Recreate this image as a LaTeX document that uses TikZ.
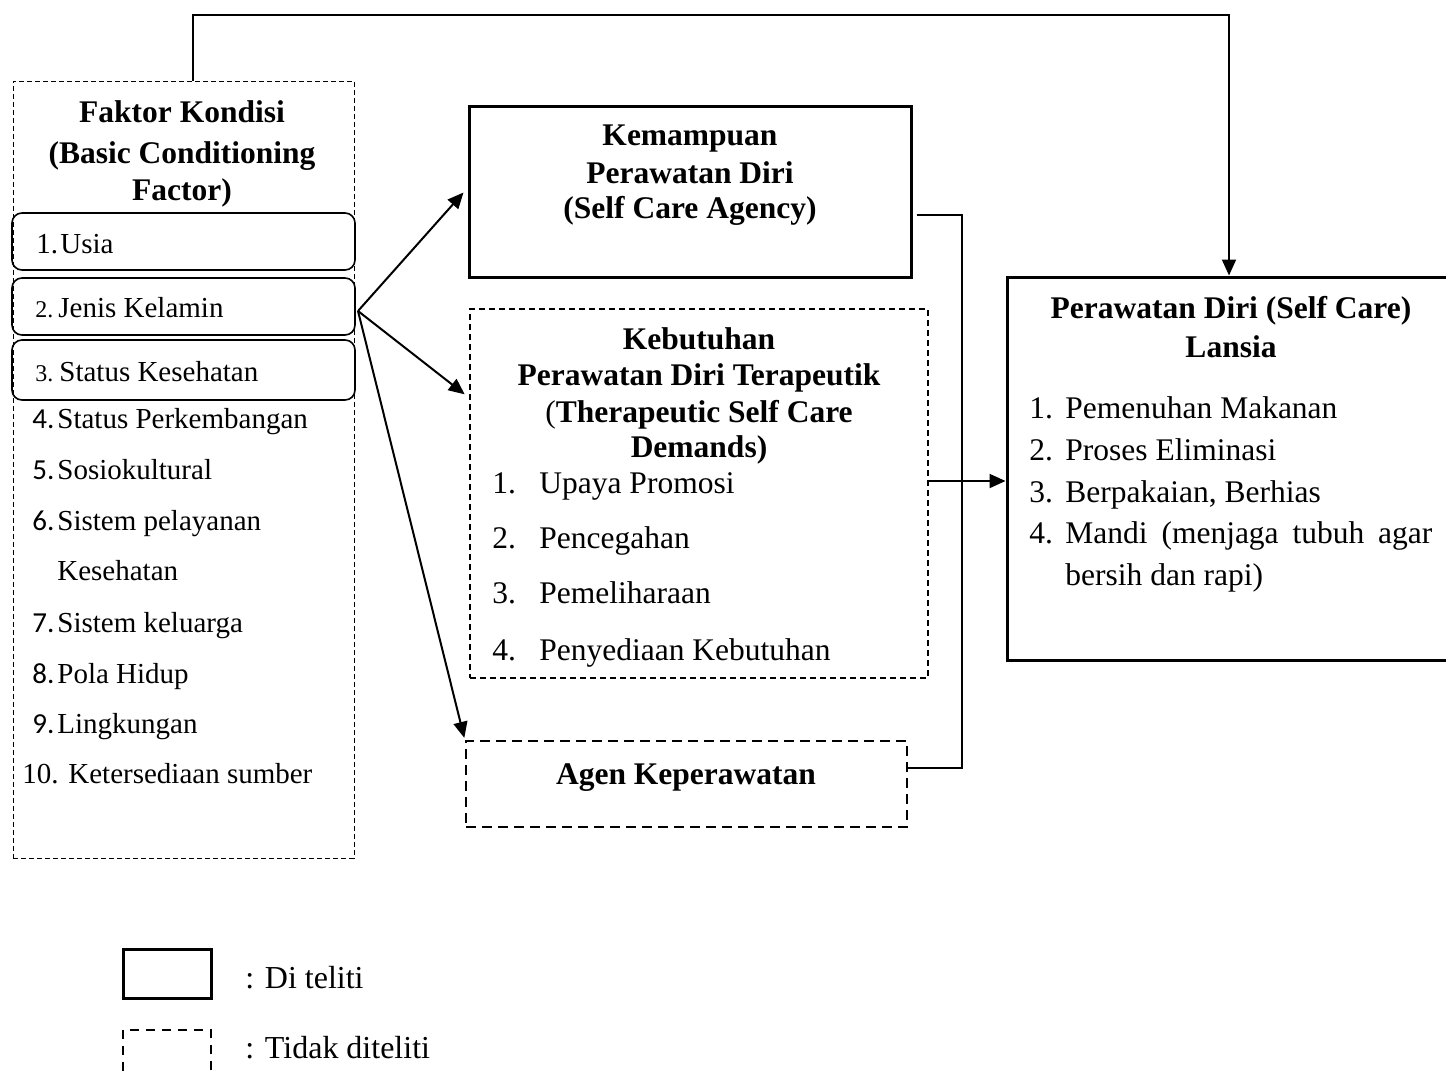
\documentclass[tikz,border=0pt]{standalone}
\usepackage{fontspec}
\setmainfont{Liberation Serif}
\newfontfamily\numfont{Carlito}
\usetikzlibrary{arrows.meta,fit}
\tikzset{
	box/.style={draw, line width=1.5pt, inner sep=0pt},
	roundbox/.style={draw, line width=0.8pt, rounded corners=5pt, inner sep=0pt},
	thinbox/.style={draw, line width=0.5pt, dash pattern=on 2.5pt off 1.5pt, inner sep=0pt},
	dashbox/.style={draw, line width=0.6pt, dash pattern=on 3pt off 2pt, inner sep=0pt},
	thickdash/.style={draw, line width=1.2pt, dash pattern=on 5pt off 3pt, inner sep=0pt},
	head/.style={font=\bfseries\fontsize{15.75}{19}\selectfont, anchor=base, inner sep=0pt},
	item/.style={font=\fontsize{14.5}{17}\selectfont, anchor=base west, inner sep=0pt},
	num/.style={item, font=\numfont\fontsize{14.5}{17}\selectfont},
	small/.style={item, font=\fontsize{12}{14}\selectfont},
	bigitem/.style={font=\fontsize{15.75}{19}\selectfont, anchor=base west, inner sep=0pt},
	conn/.style={line width=1pt},
	arr/.style={conn, -{Triangle[length=8pt,width=7pt]}},
}
\begin{document}
\begin{tikzpicture}[x=0.5pt, y=-0.5pt, line join=miter]
	\useasboundingbox (0,0) rectangle (1446,1076);
	% boxes
	\node[thinbox, fit={(13,81) (354,858)}] (faktor) {};
	\node[roundbox, fit={(12,213) (355,270)}] (usia) {};
	\node[roundbox, fit={(12,278) (355,335)}] (jenis) {};
	\node[roundbox, fit={(12,340) (355,400)}] (status) {};
	\node[box, fit={(469,106) (911,277)}] (kemampuan) {};
	\node[dashbox, fit={(470,309) (928,678)}] (kebutuhan) {};
	\node[thickdash, fit={(466,741) (907,827)}] (agen) {};
	\node[box, fit={(1007,277) (1452,660)}] (perawatan) {};

	% faktor kondisi
	\node[head] (fk1) at (182,122) {Faktor Kondisi};
	\node[head] (fk2) at (182,163) {(Basic Conditioning};
	\node[head] (fk3) at (182,200) {Factor)};
	\node[item] (no-1) at (36,253) {1.};
	\node[item] (it-1) at (60,253) {Usia};
	\node[small] (no-2) at (35,317) {2.};
	\node[item] (it-2) at (58,317) {Jenis Kelamin};
	\node[small] (no-3) at (35,381) {3.};
	\node[item] (it-3) at (59,381) {Status Kesehatan};
	\foreach \n/\t/\y in {4./Status Perkembangan/428, 5./Sosiokultural/479, 6./Sistem pelayanan/530, 7./Sistem keluarga/632, 8./Pola Hidup/683, 9./Lingkungan/733}{
		\node[num] (no-\y) at (32,\y) {\n};
		\node[item] (it-\y) at (57,\y) {\t};
	}
	\node[item] (it-580) at (57,580) {Kesehatan};
	\node[item] (no-10) at (22,783) {10.};
	\node[item] (it-10) at (68,783) {Ketersediaan sumber};

	% kemampuan
	\node[head] (km1) at (690,145) {Kemampuan};
	\node[head] (km2) at (690,183) {Perawatan Diri};
	\node[head] (km3) at (690,218) {(Self Care Agency)};

	% kebutuhan
	\node[head] (kb1) at (699,349) {Kebutuhan};
	\node[head] (kb2) at (699,385) {Perawatan Diri Terapeutik};
	\node[head] (kb3) at (699,422) {{\mdseries(}Therapeutic Self Care};
	\node[head] (kb4) at (699,457) {Demands)};
	\foreach \n/\t/\y in {1./Upaya Promosi/493, 2./Pencegahan/548, 3./Pemeliharaan/603, 4./Penyediaan Kebutuhan/660}{
		\node[bigitem] (kn-\y) at (492,\y) {\n};
		\node[bigitem] (kt-\y) at (539,\y) {\t};
	}

	% agen
	\node[head] (ag) at (686,784) {Agen Keperawatan};

	% perawatan diri
	\node[head] (pd1) at (1231,318) {Perawatan Diri (Self Care)};
	\node[head] (pd2) at (1231,357) {Lansia};
	\foreach \n/\t/\y in {1./Pemenuhan Makanan/418, 2./Proses Eliminasi/460, 3./{Berpakaian, Berhias}/502}{
		\node[bigitem] (pn-\y) at (1029,\y) {\n};
		\node[bigitem] (pt-\y) at (1065,\y) {\t};
	}
	\node[bigitem] (pn-543) at (1029,543) {4.};
	\node[bigitem] (pt-543) at (1065,543) {\makebox[183.5pt][s]{Mandi (menjaga tubuh agar}};
	\node[bigitem] (pt-585) at (1065,585) {bersih dan rapi)};

	% connectors
	\coordinate (src) at (358,311);
	\draw[arr, shorten >=3pt] (src) -- (kemampuan.west |- 0,188);
	\draw[arr, shorten >=3pt] (src) -- (kebutuhan.west |- 0,398);
	\draw[arr, shorten >=1pt] (src) -- (agen.north west);
	\draw[conn] ([xshift=2pt]kemampuan.east |- 0,215) -- (962,215) |- (agen.east |- 0,768);
	\draw[arr] (kebutuhan.east |- 0,481) -- (perawatan.west |- 0,481);
	\draw[arr] (faktor.north -| 193,0) -- (193,15) -| (perawatan.north -| 1229,0);

	% legend
	\node[box, fit={(123,949) (211,998)}] (lg-solid) {};
	\node[draw, line width=1pt, dash pattern=on 4.5pt off 3.5pt, inner sep=0pt, fit={(123,1030) (211,1110)}] (lg-dash) {};
	\node[item, font=\fontsize{16}{19}\selectfont] (lg-t1) at (245,988) {: Di teliti};
	\node[item, font=\fontsize{16}{19}\selectfont] (lg-t2) at (245,1058) {: Tidak diteliti};
\end{tikzpicture}
\end{document}
